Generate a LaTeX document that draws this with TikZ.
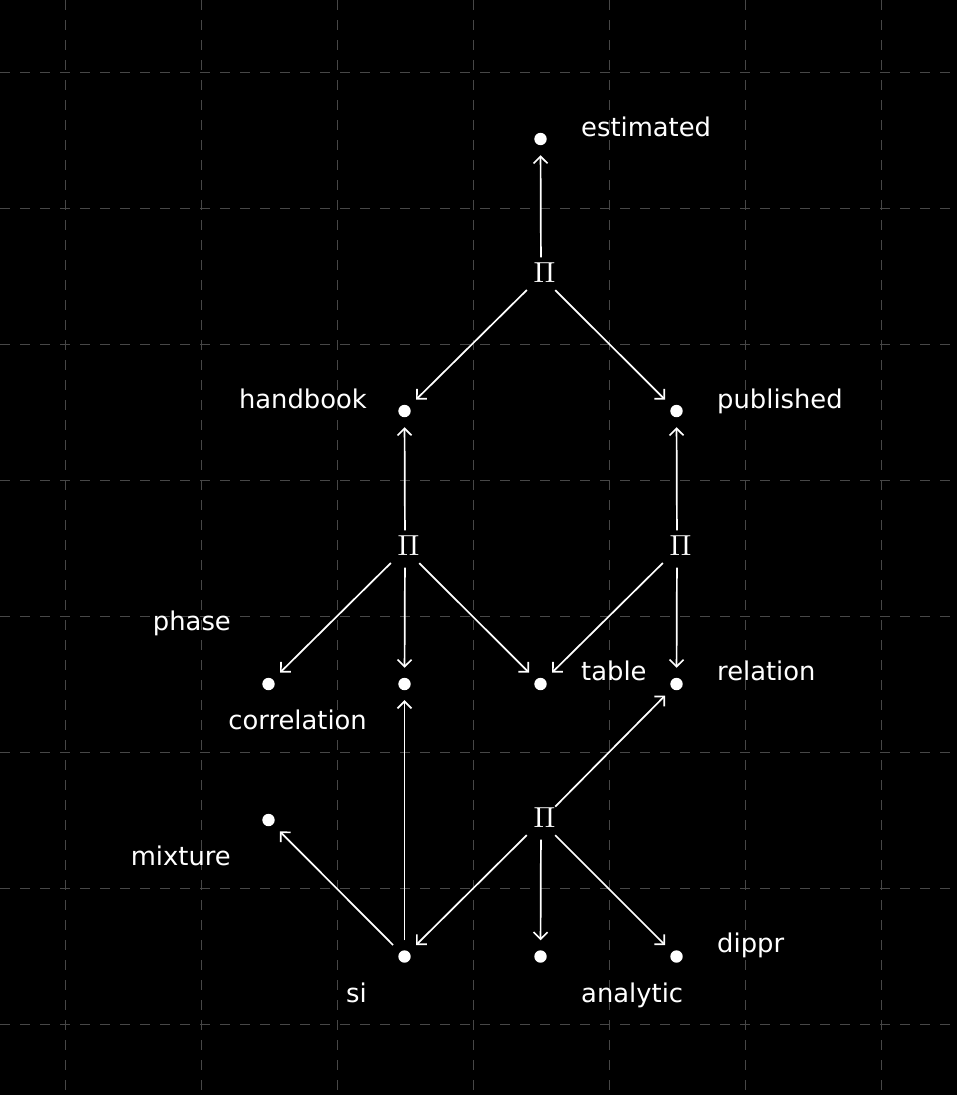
\documentclass[tikz,border=0pt]{standalone}
\usepackage{fontspec}
\newfontfamily\labfont{DejaVu Sans}
\usetikzlibrary{arrows.meta}
\begin{document}
\begin{tikzpicture}[x=1pt,y=-1pt,
  pdot/.style={circle,minimum size=32pt,inner sep=0pt,
    path picture={\fill[white] (path picture bounding box.center) circle (6.2pt);}},
  pinode/.style={rectangle,minimum width=28pt,minimum height=37pt,inner sep=0pt,
    label={[text=white,inner sep=0pt,anchor=center,xshift=3.5pt,yshift=3pt]center:\scalebox{2.9}{$\Pi$}}},
  gridline/.style={draw=white!28!black,line width=1pt,dash pattern=on 9.5pt off 10.5pt},
  arr/.style={draw=white,line width=1.7pt,
    -{Straight Barb[length=7pt,width=14pt,line width=1.7pt]}},
  lab/.style={text=white,inner sep=0pt,font=\labfont\fontsize{25.8}{30}\selectfont}
]
\fill[black] (0,0) rectangle (957,1095);
\useasboundingbox (0,0) rectangle (957,1095);
\foreach \x in {65.5,201.5,337.5,473.5,609.5,745.5,881.5}
  \draw[gridline] (\x,0) -- (\x,1095);
\foreach \y in {72,208,344,480,616,752,888,1024}
  \draw[gridline] (0,\y) -- (957,\y);

% dots
\node[pdot] (est) at (540.5,139) {};
\node[pdot] (hb)  at (404.5,411) {};
\node[pdot] (pub) at (676.5,411) {};
\node[pdot] (cor) at (268.5,684) {};
\node[pdot] (mid) at (404.5,684) {};
\node[pdot] (tab) at (540.5,684) {};
\node[pdot] (rel) at (676.5,684) {};
\node[pdot] (mix) at (268.5,820) {};
\node[pdot] (si)  at (404.5,956.5) {};
\node[pdot] (ana) at (540.5,956.5) {};
\node[pdot] (dip) at (676.5,956.5) {};

% products
\node[pinode] (p1) at (541,276) {};
\node[pinode] (p2) at (405,549) {};
\node[pinode] (p3) at (677,549) {};
\node[pinode] (p4) at (541,821) {};

% labels
\node[lab,anchor=base west] (lest) at (581,136) {estimated};
\node[lab,anchor=base east] (lhb)  at (367,408) {handbook};
\node[lab,anchor=base west] (lpub) at (717,408) {published};
\node[lab,anchor=base east] (lpha) at (231,630) {phase};
\node[lab,anchor=base east] (lcor) at (367,729) {correlation};
\node[lab,anchor=base west] (ltab) at (581,680) {table};
\node[lab,anchor=base west] (lrel) at (717,680) {relation};
\node[lab,anchor=base east] (lmix) at (231,865) {mixture};
\node[lab,anchor=base east] (lsi)  at (367,1002) {si};
\node[lab,anchor=base west] (lana) at (581,1002) {analytic};
\node[lab,anchor=base west] (ldip) at (717,952) {dippr};

% connectors
\draw[arr] (p1) -- (est);
\draw[arr] (p1) -- (hb);
\draw[arr] (p1) -- (pub);
\draw[arr] (p2) -- (hb);
\draw[arr] (p2) -- (cor);
\draw[arr] (p2) -- (mid);
\draw[arr] (p2) -- (tab);
\draw[arr] (p3) -- (pub);
\draw[arr] (p3) -- (tab);
\draw[arr] (p3) -- (rel);
\draw[arr] (p4) -- (rel);
\draw[arr] (p4) -- (si);
\draw[arr] (p4) -- (ana);
\draw[arr] (p4) -- (dip);
\draw[arr] (si) -- (mix);
\draw[arr] (si) -- (mid);
\end{tikzpicture}
\end{document}
